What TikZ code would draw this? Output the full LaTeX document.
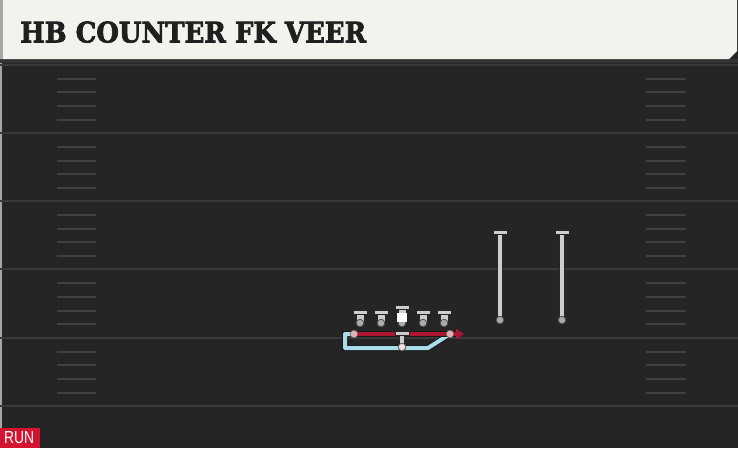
\documentclass[tikz,border=0pt]{standalone}
\usepackage{fontspec}
\usepackage{graphicx}
\usetikzlibrary{arrows.meta, positioning}
\newfontfamily\titlefont{DejaVu Serif Bold}[FakeBold=2.5]
\newfontfamily\tagfont{Liberation Sans}
\definecolor{fieldbg}{HTML}{252525}
\definecolor{titlebg}{HTML}{F4F2EC}
\definecolor{yardgrey}{HTML}{3A3A3A}
\definecolor{hashgrey}{HTML}{404040}
\definecolor{playergrey}{HTML}{CDCDCD}
\definecolor{dotgrey}{HTML}{ABABAB}
\definecolor{routered}{HTML}{AC1530}
\definecolor{routeblue}{HTML}{A9DDEA}
\definecolor{spotpink}{HTML}{E4AFB6}
\definecolor{tagred}{HTML}{D3132F}

\tikzset{
  yardline/.style={draw=yardgrey, line width=2pt},
  hashmark/.style={draw=hashgrey, line width=1.5pt},
  routeedge/.style={draw=black!90, line width=6pt},
  redroute/.style={draw=routered, line width=4pt},
  blueroute/.style={draw=routeblue, line width=4pt, line join=round},
  spot/.style={fill=spotpink, draw=black!60, line width=0.6pt}
}

% x, top of the bar, foot of the stem, stem width
\newcommand{\player}[4]{%
  \draw[draw=black!85, line width=#4pt+2pt] (#1,#2+2) -- (#1,#3);
  \draw[draw=playergrey, line width=#4pt] (#1,#2+2) -- (#1,#3);
  \filldraw[fill=playergrey, draw=black!85, line width=1pt] (#1-7,#2) rectangle (#1+7,#2+4.5);
  \filldraw[fill=dotgrey, draw=black!70, line width=0.8pt] (#1,#3) circle (3.8);
}

\begin{document}
\begin{tikzpicture}[x=1pt, y=-1pt]
		\useasboundingbox (0,0) rectangle (738,448);
		\fill[fieldbg] (0,0) rectangle (738,448);
		\fill[black!35] (0,60) rectangle (2,448);
		\fill[black!80] (0,59) rectangle (738,63);

		% yard lines and hash marks
		\draw[yardline] (0,65) -- (738,65)
		(0,133) -- (738,133)
		(0,201) -- (738,201)
		(0,269) -- (738,269)
		(0,338) -- (738,338)
		(0,406) -- (738,406);
		\foreach \y in {79,92,106,120,147,161,174,188,215,229,242,256,283,297,311,324,352,365,379,393}
		{
			\draw[hashmark] (57,\y) -- (96,\y);
			\draw[hashmark] (646,\y) -- (686,\y);
		}

		% title bar
		\fill[titlebg] (0,0) -- (737,0) -- (737,51) -- (729,59) -- (0,59) -- cycle;
		\fill[black!35] (0,0) rectangle (3,59);
		\node[anchor=south west, inner sep=0pt, text=black!88] (title) at (20,43)
			{\resizebox{346pt}{21pt}{\titlefont HB COUNTER FK VEER}};

		% play tag
		\fill[tagred] (0,428) rectangle (40,448);
		\node[anchor=south west, inner sep=0pt, text=white] (tag) at (4,444)
			{\resizebox{30pt}{12pt}{\tagfont RUN}};

		% route points
		\coordinate (hb) at (354,334);
		\coordinate (hbend) at (464,334);
		\coordinate (fk) at (345,334);
		\coordinate (fkdown) at (345,348);
		\coordinate (fkrun) at (428,348);
		\coordinate (veer) at (450,334);

		% routes
		\draw[routeedge] (hb) -- (fk) -- (fkdown) -- (fkrun) -- (veer);
		\draw[blueroute] (hb) -- (fk) -- (fkdown) -- (fkrun) -- (veer);
		\draw[routeedge, shorten >=6pt] (hb) -- (hbend);
		\draw[redroute, -{Triangle[length=8pt, width=10pt]}] (hb) -- (hbend);
		\filldraw[spot] (hb) circle (3.8);
		\filldraw[spot] (veer) circle (3.8);

		% line
		\player{360}{310}{323}{7}
		\player{381}{310}{323}{7}
		\player{402}{305}{323}{7}
		\player{423}{310}{323}{7}
		\player{444}{310}{323}{7}
		\fill[white] (397,313) rectangle (407,322);

		% quarterback
		\player{402}{331}{347}{4}
		\filldraw[fill=spotpink!40, draw=black!60, line width=0.6pt] (402,347) circle (3.6);

		% receivers
		\player{500}{230}{320}{4}
		\player{562}{230}{320}{4}
	\end{tikzpicture}
\end{document}
